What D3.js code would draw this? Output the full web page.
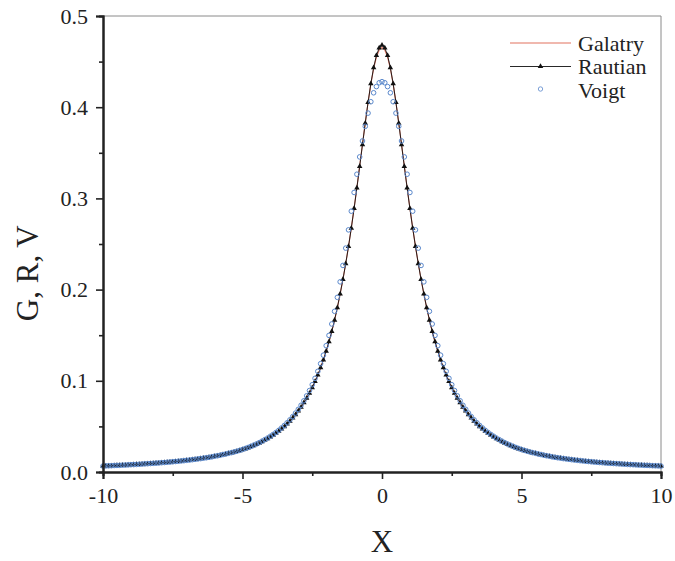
<!DOCTYPE html>
<html>
<head>
<meta charset="utf-8">
<script src="https://cdn.jsdelivr.net/npm/d3@7"></script>
<style>
  html, body { margin: 0; padding: 0; background: #fff; }
  svg text { font-family: "Liberation Serif", "Times New Roman", serif !important; }
</style>
</head>
<body>
<div id="chart"></div>
<script>
// x grid of the profiles (step 0.1)
const xs = [
  -10,-9.9,-9.8,-9.7,-9.6,-9.5,-9.4,-9.3,-9.2,-9.1,
  -9,-8.9,-8.8,-8.7,-8.6,-8.5,-8.4,-8.3,-8.2,-8.1,
  -8,-7.9,-7.8,-7.7,-7.6,-7.5,-7.4,-7.3,-7.2,-7.1,
  -7,-6.9,-6.8,-6.7,-6.6,-6.5,-6.4,-6.3,-6.2,-6.1,
  -6,-5.9,-5.8,-5.7,-5.6,-5.5,-5.4,-5.3,-5.2,-5.1,
  -5,-4.9,-4.8,-4.7,-4.6,-4.5,-4.4,-4.3,-4.2,-4.1,
  -4,-3.9,-3.8,-3.7,-3.6,-3.5,-3.4,-3.3,-3.2,-3.1,
  -3,-2.9,-2.8,-2.7,-2.6,-2.5,-2.4,-2.3,-2.2,-2.1,
  -2,-1.9,-1.8,-1.7,-1.6,-1.5,-1.4,-1.3,-1.2,-1.1,
  -1,-0.9,-0.8,-0.7,-0.6,-0.5,-0.4,-0.3,-0.2,-0.1,
  0,0.1,0.2,0.3,0.4,0.5,0.6,0.7,0.8,0.9,
  1,1.1,1.2,1.3,1.4,1.5,1.6,1.7,1.8,1.9,
  2,2.1,2.2,2.3,2.4,2.5,2.6,2.7,2.8,2.9,
  3,3.1,3.2,3.3,3.4,3.5,3.6,3.7,3.8,3.9,
  4,4.1,4.2,4.3,4.4,4.5,4.6,4.7,4.8,4.9,
  5,5.1,5.2,5.3,5.4,5.5,5.6,5.7,5.8,5.9,
  6,6.1,6.2,6.3,6.4,6.5,6.6,6.7,6.8,6.9,
  7,7.1,7.2,7.3,7.4,7.5,7.6,7.7,7.8,7.9,
  8,8.1,8.2,8.3,8.4,8.5,8.6,8.7,8.8,8.9,
  9,9.1,9.2,9.3,9.4,9.5,9.6,9.7,9.8,9.9,
  10
];

const galatry = [
  0.0064,0.0066,0.0067,0.0068,0.0070,0.0071,0.0072,0.0074,0.0075,0.0077,
  0.0079,0.0080,0.0082,0.0084,0.0086,0.0088,0.0090,0.0092,0.0094,0.0096,
  0.0098,0.0101,0.0103,0.0106,0.0108,0.0111,0.0114,0.0117,0.0120,0.0123,
  0.0127,0.0130,0.0134,0.0138,0.0142,0.0146,0.0151,0.0155,0.0160,0.0165,
  0.0171,0.0176,0.0182,0.0189,0.0195,0.0203,0.0210,0.0218,0.0226,0.0235,
  0.0244,0.0254,0.0265,0.0277,0.0289,0.0302,0.0316,0.0332,0.0348,0.0365,
  0.0384,0.0403,0.0425,0.0447,0.0472,0.0498,0.0527,0.0558,0.0592,0.0629,
  0.0669,0.0712,0.0759,0.0810,0.0865,0.0926,0.0992,0.1064,0.1143,0.1229,
  0.1325,0.1428,0.1541,0.1666,0.1803,0.1954,0.2113,0.2286,0.2474,0.2676,
  0.2893,0.3120,0.3356,0.3594,0.3828,0.4051,0.4253,0.4423,0.4550,0.4628,
  0.4655,0.4628,0.4550,0.4423,0.4253,0.4051,0.3828,0.3594,0.3356,0.3120,
  0.2893,0.2676,0.2474,0.2286,0.2113,0.1954,0.1803,0.1666,0.1541,0.1428,
  0.1325,0.1229,0.1143,0.1064,0.0992,0.0926,0.0865,0.0810,0.0759,0.0712,
  0.0669,0.0629,0.0592,0.0558,0.0527,0.0498,0.0472,0.0447,0.0425,0.0403,
  0.0384,0.0365,0.0348,0.0332,0.0316,0.0302,0.0289,0.0277,0.0265,0.0254,
  0.0244,0.0235,0.0226,0.0218,0.0210,0.0203,0.0195,0.0189,0.0182,0.0176,
  0.0171,0.0165,0.0160,0.0155,0.0151,0.0146,0.0142,0.0138,0.0134,0.0130,
  0.0127,0.0123,0.0120,0.0117,0.0114,0.0111,0.0108,0.0106,0.0103,0.0101,
  0.0098,0.0096,0.0094,0.0092,0.0090,0.0088,0.0086,0.0084,0.0082,0.0080,
  0.0079,0.0077,0.0075,0.0074,0.0072,0.0071,0.0070,0.0068,0.0067,0.0066,
  0.0064
];

const rautian = [
  0.0064,0.0066,0.0067,0.0068,0.0070,0.0071,0.0072,0.0074,0.0075,0.0077,
  0.0079,0.0080,0.0082,0.0084,0.0086,0.0088,0.0090,0.0092,0.0094,0.0096,
  0.0098,0.0101,0.0103,0.0106,0.0108,0.0111,0.0114,0.0117,0.0120,0.0123,
  0.0127,0.0130,0.0134,0.0138,0.0142,0.0146,0.0151,0.0155,0.0160,0.0165,
  0.0171,0.0176,0.0182,0.0189,0.0195,0.0203,0.0210,0.0218,0.0226,0.0235,
  0.0244,0.0254,0.0265,0.0277,0.0289,0.0302,0.0316,0.0332,0.0348,0.0365,
  0.0384,0.0403,0.0425,0.0447,0.0472,0.0498,0.0527,0.0558,0.0592,0.0629,
  0.0669,0.0712,0.0759,0.0810,0.0865,0.0926,0.0992,0.1064,0.1143,0.1229,
  0.1325,0.1428,0.1541,0.1666,0.1803,0.1954,0.2113,0.2285,0.2473,0.2674,
  0.2889,0.3115,0.3351,0.3590,0.3826,0.4052,0.4258,0.4433,0.4567,0.4651,
  0.4680,0.4651,0.4567,0.4433,0.4258,0.4052,0.3826,0.3590,0.3351,0.3115,
  0.2889,0.2674,0.2473,0.2285,0.2113,0.1954,0.1803,0.1666,0.1541,0.1428,
  0.1325,0.1229,0.1143,0.1064,0.0992,0.0926,0.0865,0.0810,0.0759,0.0712,
  0.0669,0.0629,0.0592,0.0558,0.0527,0.0498,0.0472,0.0447,0.0425,0.0403,
  0.0384,0.0365,0.0348,0.0332,0.0316,0.0302,0.0289,0.0277,0.0265,0.0254,
  0.0244,0.0235,0.0226,0.0218,0.0210,0.0203,0.0195,0.0189,0.0182,0.0176,
  0.0171,0.0165,0.0160,0.0155,0.0151,0.0146,0.0142,0.0138,0.0134,0.0130,
  0.0127,0.0123,0.0120,0.0117,0.0114,0.0111,0.0108,0.0106,0.0103,0.0101,
  0.0098,0.0096,0.0094,0.0092,0.0090,0.0088,0.0086,0.0084,0.0082,0.0080,
  0.0079,0.0077,0.0075,0.0074,0.0072,0.0071,0.0070,0.0068,0.0067,0.0066,
  0.0064
];

const voigt = [
  0.0065,0.0067,0.0068,0.0069,0.0071,0.0072,0.0073,0.0075,0.0076,0.0078,
  0.0080,0.0081,0.0083,0.0085,0.0087,0.0089,0.0091,0.0093,0.0095,0.0097,
  0.0099,0.0102,0.0104,0.0107,0.0109,0.0112,0.0115,0.0118,0.0121,0.0124,
  0.0128,0.0131,0.0135,0.0139,0.0143,0.0147,0.0152,0.0156,0.0161,0.0166,
  0.0173,0.0178,0.0184,0.0191,0.0197,0.0205,0.0212,0.0220,0.0228,0.0237,
  0.0247,0.0258,0.0269,0.0281,0.0294,0.0307,0.0322,0.0338,0.0355,0.0372,
  0.0392,0.0412,0.0434,0.0457,0.0483,0.0510,0.0540,0.0572,0.0607,0.0646,
  0.0687,0.0732,0.0781,0.0835,0.0893,0.0957,0.1027,0.1104,0.1188,0.1281,
  0.1385,0.1498,0.1623,0.1762,0.1915,0.2085,0.2265,0.2455,0.2655,0.2860,
  0.3065,0.3265,0.3455,0.3630,0.3790,0.3935,0.4060,0.4158,0.4226,0.4268,
  0.4280,0.4268,0.4226,0.4158,0.4060,0.3935,0.3790,0.3630,0.3455,0.3265,
  0.3065,0.2860,0.2655,0.2455,0.2265,0.2085,0.1915,0.1762,0.1623,0.1498,
  0.1385,0.1281,0.1188,0.1104,0.1027,0.0957,0.0893,0.0835,0.0781,0.0732,
  0.0687,0.0646,0.0607,0.0572,0.0540,0.0510,0.0483,0.0457,0.0434,0.0412,
  0.0392,0.0372,0.0355,0.0338,0.0322,0.0307,0.0294,0.0281,0.0269,0.0258,
  0.0247,0.0237,0.0228,0.0220,0.0212,0.0205,0.0197,0.0191,0.0184,0.0178,
  0.0173,0.0166,0.0161,0.0156,0.0152,0.0147,0.0143,0.0139,0.0135,0.0131,
  0.0128,0.0124,0.0121,0.0118,0.0115,0.0112,0.0109,0.0107,0.0104,0.0102,
  0.0099,0.0097,0.0095,0.0093,0.0091,0.0089,0.0087,0.0085,0.0083,0.0081,
  0.0080,0.0078,0.0076,0.0075,0.0073,0.0072,0.0071,0.0069,0.0068,0.0067,
  0.0065
];

const xTicks = [-10, -5, 0, 5, 10];
const xMinor = [-7.5, -2.5, 2.5, 7.5];
const yTicks = [0, 0.1, 0.2, 0.3, 0.4, 0.5];
const yMinor = [0.05, 0.15, 0.25, 0.35, 0.45];
const legendNames = ["Galatry", "Rautian", "Voigt"];

const W = 675, H = 561;
const margin = { top: 16, right: 14, bottom: 89, left: 103 };
const colors = { galatry: "#e2735f", rautian: "#111", voigt: "#5a88cc" };
const serif = "'Liberation Serif', 'Times New Roman', serif";

const svg = d3.select("#chart").append("svg").attr("width", W).attr("height", H)
  .style("display", "block");
svg.append("rect").attr("width", W).attr("height", H).attr("fill", "#fff");

const x = d3.scaleLinear().domain([-10, 10]).range([margin.left, W - margin.right]);
const y = d3.scaleLinear().domain([0, 0.5]).range([H - margin.bottom, margin.top]);

// thin frame on top / right
svg.append("path")
  .attr("d", `M${x(-10)},${y(0.5)}H${x(10)}V${y(0)}`)
  .attr("fill", "none").attr("stroke", "#8a8a8a").attr("stroke-width", 1);

const rows = (vals) => xs.map((xv, i) => ({ x: xv, y: vals[i] }));
const line = d3.line().x((d) => x(d.x)).y((d) => y(d.y));

// Galatry: red line
svg.append("path").datum(rows(galatry))
  .attr("fill", "none").attr("stroke", colors.galatry).attr("stroke-width", 1.1)
  .attr("d", line);

// Rautian: black line + triangles
svg.append("path").datum(rows(rautian))
  .attr("fill", "none").attr("stroke", colors.rautian).attr("stroke-width", 0.9)
  .attr("d", line);
const tri = d3.symbol().type(d3.symbolTriangle).size(13);
svg.append("g").selectAll("path").data(rows(rautian)).join("path")
  .attr("transform", (d) => `translate(${x(d.x)},${y(d.y)})`)
  .attr("d", tri).attr("fill", colors.rautian);

// Voigt: open circles
svg.append("g").selectAll("circle").data(rows(voigt)).join("circle")
  .attr("cx", (d) => x(d.x)).attr("cy", (d) => y(d.y)).attr("r", 2.3)
  .attr("fill", "none").attr("stroke", colors.voigt).attr("stroke-width", 1);

// axes
const styleAxis = (g) => {
  g.attr("font-family", serif);
  g.select(".domain").attr("stroke", "#222").attr("stroke-width", 2);
  g.selectAll(".tick line").attr("stroke", "#222").attr("stroke-width", 1.6);
  g.selectAll(".tick text").attr("fill", "#222").attr("font-size", 22);
};
const hyphen = (d) => String(d);

svg.append("g").attr("transform", `translate(0,${y(0)})`)
  .call(d3.axisBottom(x).tickValues(xMinor).tickSize(4).tickFormat(""))
  .call(styleAxis);
svg.append("g").attr("transform", `translate(0,${y(0)})`)
  .call(d3.axisBottom(x).tickValues(xTicks).tickSize(7).tickPadding(8).tickFormat(hyphen))
  .call(styleAxis);

svg.append("g").attr("transform", `translate(${x(-10)},0)`)
  .call(d3.axisLeft(y).tickValues(yMinor).tickSize(4).tickFormat(""))
  .call(styleAxis);
svg.append("g").attr("transform", `translate(${x(-10)},0)`)
  .call(d3.axisLeft(y).tickValues(yTicks).tickSize(7).tickPadding(8).tickFormat(d3.format(".1f")))
  .call(styleAxis);

// axis titles
svg.append("text").attr("x", x(0)).attr("y", 552).attr("text-anchor", "middle")
  .attr("font-family", serif).attr("font-size", 31).attr("fill", "#222").text("X");
svg.append("text").attr("transform", `translate(38,${y(0.218)}) rotate(-90)`)
  .attr("text-anchor", "middle").attr("font-family", serif).attr("font-size", 31)
  .attr("fill", "#222").text("G, R, V");

// legend
const lg = svg.append("g").attr("transform", "translate(510,43)");
legendNames.forEach((name, i) => {
  const row = lg.append("g").attr("transform", `translate(0,${i * 23.5})`);
  if (i < 2) {
    row.append("line").attr("x1", 0).attr("x2", 61).attr("y1", 0).attr("y2", 0)
      .attr("stroke", i === 0 ? colors.galatry : colors.rautian).attr("stroke-width", i === 0 ? 1.1 : 0.9);
  }
  if (i === 1) row.append("path").attr("transform", "translate(30.5,0)").attr("d", tri).attr("fill", colors.rautian);
  if (i === 2) row.append("circle").attr("cx", 30.5).attr("cy", -1).attr("r", 2.2)
    .attr("fill", "none").attr("stroke", colors.voigt).attr("stroke-width", 0.8);
  row.append("text").attr("x", 68).attr("y", 7.5).attr("font-family", serif)
    .attr("font-size", 22).attr("fill", "#222").text(name);
});
</script>
</body>
</html>
